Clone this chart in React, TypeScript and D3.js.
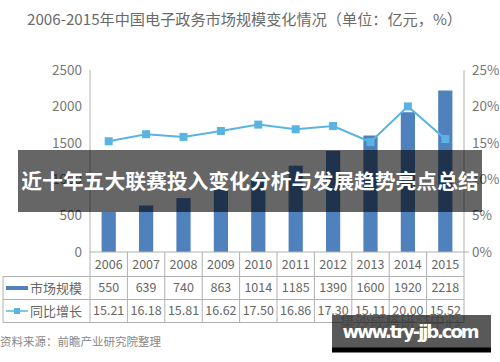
import React from "react";
import * as d3 from "d3";

const years = ["2006", "2007", "2008", "2009", "2010", "2011", "2012", "2013", "2014", "2015"];
const marketSize = [550, 639, 740, 863, 1014, 1185, 1390, 1600, 1920, 2218];
const growth = [15.21, 16.18, 15.81, 16.62, 17.5, 16.86, 17.3, 15.11, 20.0, 15.52];
const leftTicks = [0, 500, 1000, 1500, 2000, 2500];
const rightTicks = [0, 5, 10, 15, 20, 25];
const seriesNames = ["市场规模", "同比增长"];
const titleText = "2006-2015年中国电子政务市场规模变化情况（单位：亿元，%）";
const sourceText = "资料来源：前瞻产业研究院整理";
const bannerText = "近十年五大联赛投入变化分析与发展趋势亮点总结";
const siteText = "www.try-jjb.com";
const faintText = "集沙成塔研究中心";

const FONT = "'Noto Sans CJK SC', 'Noto Sans', sans-serif";
const BAR = "#4F81BD";
const LINE = "#5AB4E3";
const GRID = "#B0B0B0";

export default function App() {
  const left = 90, right = 464, top = 70, bottom = 252;
  const x = d3.scaleBand<string>().domain(years).range([left, right]).paddingInner(0.62).paddingOuter(0.31);
  const xc = d3.scaleBand<string>().domain(years).range([left, right]);
  const yL = d3.scaleLinear().domain([0, 2500]).range([bottom, top]);
  const yR = d3.scaleLinear().domain([0, 25]).range([bottom, top]);
  const line = d3.line<number>().x((_, i) => xc(years[i])! + xc.bandwidth() / 2).y((d) => yR(d));
  const rows = [252, 276.5, 299.5, 322.5];
  const tableLeft = 3;

  return (
    <svg width={500} height={362} style={{ position: "absolute", left: 0, top: 0, background: "#fff" }} fontFamily={FONT}>
      <rect width={500} height={362} fill="#fff" />
      <text x={27} y={25} fontSize={15} fill="#6a6a6a" textLength={435} lengthAdjust="spacingAndGlyphs">{titleText}</text>

      {/* axes */}
      <line x1={left} x2={left} y1={top} y2={bottom} stroke={GRID} />
      <line x1={right} x2={right} y1={top} y2={bottom} stroke={GRID} />
      <line x1={right} x2={right + 5} y1={bottom} y2={bottom} stroke={GRID} />
      {leftTicks.map((t) => (
        <text key={t} x={82} y={yL(t)} dy="0.35em" textAnchor="end" fontSize={13.5} fill="#777">{t}</text>
      ))}
      {rightTicks.map((t) => (
        <text key={t} x={472} y={yR(t)} dy="0.35em" fontSize={13.5} fill="#777">{t}%</text>
      ))}

      {/* bars */}
      {marketSize.map((v, i) => (
        <rect key={years[i]} x={x(years[i])} y={yL(v)} width={x.bandwidth()} height={yL(0) - yL(v)} fill={BAR} />
      ))}

      {/* line */}
      <path d={line(growth) || ""} fill="none" stroke={LINE} strokeWidth={2} />
      {growth.map((v, i) => (
        <rect key={years[i]} x={xc(years[i])! + xc.bandwidth() / 2 - 4} y={yR(v) - 4} width={8} height={8} fill={LINE} />
      ))}

      {/* data table */}
      <g stroke={GRID} strokeWidth={1} fill="none">
        <line x1={left} x2={right} y1={rows[0]} y2={rows[0]} />
        <line x1={tableLeft} x2={right} y1={rows[1]} y2={rows[1]} />
        <line x1={tableLeft} x2={right} y1={rows[2]} y2={rows[2]} />
        <line x1={tableLeft} x2={right} y1={rows[3]} y2={rows[3]} />
        <line x1={tableLeft} x2={tableLeft} y1={rows[1]} y2={rows[3]} />
        {years.map((yr) => (
          <line key={yr} x1={xc(yr)} x2={xc(yr)} y1={rows[0]} y2={rows[3]} />
        ))}
        <line x1={right} x2={right} y1={rows[0]} y2={rows[3]} />
      </g>
      {years.map((yr, i) => {
        const cx = xc(yr)! + xc.bandwidth() / 2;
        return (
          <g key={yr} fontSize={12.5} fill="#666" textAnchor="middle">
            <text x={cx} y={(rows[0] + rows[1]) / 2} dy="0.35em">{yr}</text>
            <text x={cx} y={(rows[1] + rows[2]) / 2} dy="0.35em">{marketSize[i]}</text>
            <text x={cx} y={(rows[2] + rows[3]) / 2} dy="0.35em">{growth[i].toFixed(2)}</text>
          </g>
        );
      })}
      <line x1={6} x2={28} y1={(rows[1] + rows[2]) / 2} y2={(rows[1] + rows[2]) / 2} stroke={BAR} strokeWidth={4} />
      <text x={30} y={(rows[1] + rows[2]) / 2} dy="0.35em" fontSize={13} fill="#666">{seriesNames[0]}</text>
      <line x1={6} x2={28} y1={(rows[2] + rows[3]) / 2} y2={(rows[2] + rows[3]) / 2} stroke={LINE} strokeWidth={1.5} />
      <rect x={14} y={(rows[2] + rows[3]) / 2 - 3} width={6} height={6} fill={LINE} />
      <text x={30} y={(rows[2] + rows[3]) / 2} dy="0.35em" fontSize={13} fill="#666">{seriesNames[1]}</text>

      <text x={0} y={346} fontSize={11.5} fill="#888">{sourceText}</text>

      {/* overlay banner */}
      <rect x={18} y={150} width={464} height={62} fill="rgba(0,0,0,0.6)" />
      <text x={250} y={182} dy="0.35em" textAnchor="middle" fontSize={20.8} fontWeight="bold" fill="#fff">{bannerText}</text>

      {/* site watermark */}
      <text x={340} y={327} fontSize={15} fill="#ccc">{faintText}</text>
      <rect x={332} y={315} width={159} height={33} fill="rgba(0,0,0,0.65)" />
      <rect x={332} y={347.5} width={159} height={5} fill="#000" />
      <text x={411} y={332} dy="0.35em" textAnchor="middle" fontSize={18} fontWeight="bold" fill="#fff" fontFamily="'DejaVu Sans', sans-serif" textLength={137}>{siteText}</text>
    </svg>
  );
}
